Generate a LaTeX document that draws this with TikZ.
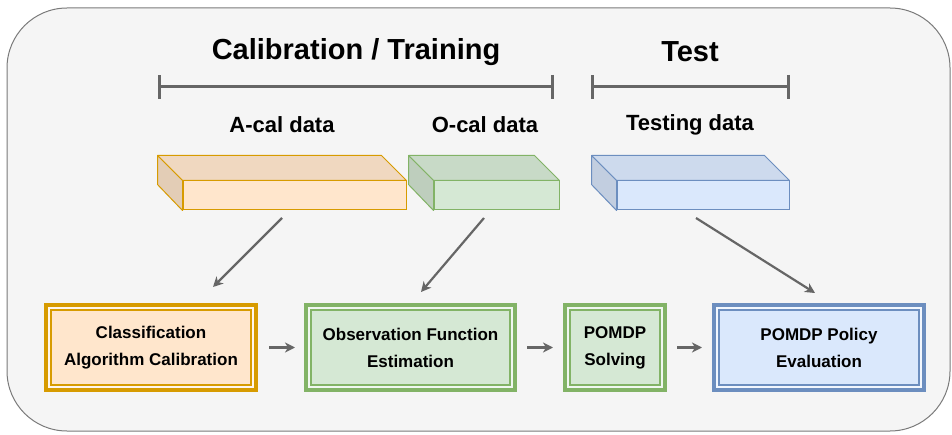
\documentclass[tikz,border=0pt]{standalone}
\usepackage{fontspec}
\setmainfont{Liberation Sans}
\usetikzlibrary{arrows.meta}

\definecolor{calfill}{HTML}{FFE6CC}
\definecolor{calline}{HTML}{D79B00}
\definecolor{obsfill}{HTML}{D5E8D4}
\definecolor{obsline}{HTML}{82B366}
\definecolor{tstfill}{HTML}{DAE8FC}
\definecolor{tstline}{HTML}{6C8EBF}
\definecolor{panelfill}{HTML}{F5F5F5}
\definecolor{panelline}{HTML}{7A7A7A}
\definecolor{flowgray}{HTML}{666666}

\tikzset{
  panel/.style={draw=panelline, fill=panelfill, line width=1pt, rounded corners=60pt},
  heading/.style={font=\fontsize{29}{35}\selectfont\bfseries},
  datalabel/.style={font=\fontsize{22}{26}\selectfont\bfseries},
  cubefront/.style 2 args={draw=#1, fill=#2, line width=1pt, inner sep=0pt, minimum height=29pt},
  cubetop/.style 2 args={draw=#1, fill=#2!94!black, line width=1pt, line join=round},
  cubeside/.style 2 args={draw=#1, fill=#2!89!black, line width=1pt, line join=round},
  stage/.style 2 args={draw=#1, fill=#2!35!white, line width=4pt,
    outer sep=2pt, inner sep=0pt, minimum height=85pt, align=center,
    font=\fontsize{17}{27}\selectfont\bfseries,
    path picture={\draw[draw=#1, fill=#2, line width=2pt]
      ([shift={(5pt,-5pt)}]path picture bounding box.north west) rectangle
      ([shift={(-5pt,5pt)}]path picture bounding box.south east);}},
  bracket/.style={draw=flowgray, line width=3pt, {Bar[width=24pt]}-{Bar[width=24pt]}},
  flow/.style={draw=flowgray, line width=2.2pt, -{Stealth[length=10pt, width=10pt, inset=3pt]}}
}

\begin{document}
\begin{tikzpicture}[x=1pt,y=-1pt]
  \useasboundingbox (0,0) rectangle (952,435);
  \draw[panel] (7,8) rectangle (950,431);

  % headings and brackets
  \node[heading] (train) at (356,52) {Calibration / Training};
  \node[heading] (test) at (690,52) {Test};
  \coordinate (trainL) at (158,87);
  \coordinate (trainR) at (554,87);
  \coordinate (testL) at (591,87);
  \coordinate (testR) at (790,87);
  \draw[bracket] (trainL) -- (trainR);
  \draw[bracket] (testL) -- (testR);

  % data sets
  \node[datalabel] (acallbl) at (282,125) {A-cal data};
  \node[datalabel] (ocallbl) at (485,125) {O-cal data};
  \node[datalabel] (testlbl) at (690,125) {Testing data};

  \node[cubefront={calline}{calfill}, minimum width=223pt] (acal) at (294.5,195.5) {};
  \node[cubefront={obsline}{obsfill}, minimum width=125pt] (ocal) at (496.5,195.5) {};
  \node[cubefront={tstline}{tstfill}, minimum width=172pt] (tdat) at (703,195.5) {};

  \draw[cubetop={calline}{calfill}] (acal.north west) -- ++(-25,-25) -- ([shift={(-25,-25)}]acal.north east) -- (acal.north east) -- cycle;
  \draw[cubeside={calline}{calfill}] (acal.north west) -- ++(-25,-25) -- ++(0,29) -- (acal.south west) -- cycle;
  \draw[cubetop={obsline}{obsfill}] (ocal.north west) -- ++(-25,-25) -- ([shift={(-25,-25)}]ocal.north east) -- (ocal.north east) -- cycle;
  \draw[cubeside={obsline}{obsfill}] (ocal.north west) -- ++(-25,-25) -- ++(0,29) -- (ocal.south west) -- cycle;
  \draw[cubetop={tstline}{tstfill}] (tdat.north west) -- ++(-25,-25) -- ([shift={(-25,-25)}]tdat.north east) -- (tdat.north east) -- cycle;
  \draw[cubeside={tstline}{tstfill}] (tdat.north west) -- ++(-25,-25) -- ++(0,29) -- (tdat.south west) -- cycle;

  % stages
  \node[stage={calline}{calfill}, minimum width=210pt] (calib) at (151,347.5) {Classification\\Algorithm Calibration};
  \node[stage={obsline}{obsfill}, minimum width=209pt] (obsfn) at (410.5,347.5) {Observation Function\\Estimation};
  \node[stage={obsline}{obsfill}, minimum width=100pt] (solve) at (615,347.5) {POMDP\\Solving};
  \node[stage={tstline}{tstfill}, minimum width=210pt] (evalu) at (819,347.5) {POMDP Policy\\Evaluation};

  \coordinate (acalout) at (282,218);
  \coordinate (calibin) at (213,287);
  \coordinate (ocalout) at (484,218);
  \coordinate (obsfnin) at (421,292);
  \coordinate (tdatout) at (696,218);
  \coordinate (evaluin) at (815,293);

  \draw[flow] (acalout) -- (calibin);
  \draw[flow] (ocalout) -- (obsfnin);
  \draw[flow] (tdatout) -- (evaluin);
  \draw[flow, shorten <=11pt, shorten >=9pt] (calib) -- (obsfn);
  \draw[flow, shorten <=10pt, shorten >=10pt] (obsfn) -- (solve);
  \draw[flow, shorten <=10pt, shorten >=10pt] (solve) -- (evalu);
\end{tikzpicture}
\end{document}
